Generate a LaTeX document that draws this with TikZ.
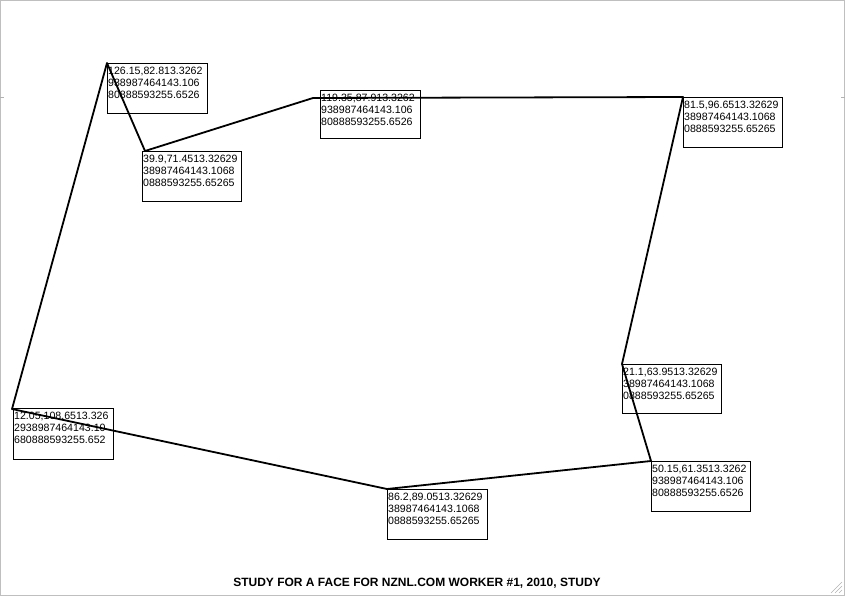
\documentclass[tikz,border=0pt]{standalone}
\usepackage{fontspec}
\setmainfont{Liberation Sans}
\begin{document}
\begin{tikzpicture}[x=1pt,y=-1pt,
  databox/.style={draw=black,line width=0.8pt,anchor=north west,minimum width=100pt,minimum height=50pt,inner sep=0pt},
  datatext/.style={anchor=north west,inner sep=0pt,align=left,font=\fontsize{10.6}{12}\selectfont},
  edge/.style={line width=1.8pt,line join=round}]
\useasboundingbox (0,0) rectangle (845,596);
\draw[gray!50,line width=1pt] (0.5,0.5) rectangle (844.5,595.5);
\draw[gray!60] (0,97) -- (4,97) (841,97) -- (845,97);
\draw[gray!60] (842,582) -- (831,593) (842,586) -- (835,593) (842,590) -- (839,593);
% boxes
\node[databox] (b1) at (107,63) {};
\node[databox,minimum width=99pt] (b2) at (142,151) {};
\node[databox,minimum height=48pt] (b3) at (320,90) {};
\node[databox,minimum width=99pt] (b4) at (683,97) {};
\node[databox,minimum width=99pt,minimum height=49pt] (b5) at (622,364) {};
\node[databox,minimum height=51pt] (b6) at (13,408) {};
\node[databox] (b7) at (387,489) {};
\node[databox,minimum width=99pt] (b8) at (651,461) {};
\node[datatext] (t1) at ([shift={(1,3.5)}]b1.north west) {126.15,82.813.3262\\938987464143.106\\80888593255.6526};
\node[datatext] (t2) at ([shift={(1,3.5)}]b2.north west) {39.9,71.4513.32629\\38987464143.1068\\0888593255.65265};
\node[datatext] (t3) at ([shift={(1,3.5)}]b3.north west) {119.35,87.913.3262\\938987464143.106\\80888593255.6526};
\node[datatext] (t4) at ([shift={(1,3.5)}]b4.north west) {81.5,96.6513.32629\\38987464143.1068\\0888593255.65265};
\node[datatext] (t5) at ([shift={(1,3.5)}]b5.north west) {21.1,63.9513.32629\\38987464143.1068\\0888593255.65265};
\node[datatext] (t6) at ([shift={(1,3.5)}]b6.north west) {12.05,108.6513.326\\2938987464143.10\\680888593255.652};
\node[datatext] (t7) at ([shift={(1,3.5)}]b7.north west) {86.2,89.0513.32629\\38987464143.1068\\0888593255.65265};
\node[datatext] (t8) at ([shift={(1,3.5)}]b8.north west) {50.15,61.3513.3262\\938987464143.106\\80888593255.6526};
% polygon vertices
\coordinate (pA) at (107,63);
\coordinate (pB) at (145,151);
\coordinate (pC) at (313,98);
\coordinate (pD) at (683,97);
\coordinate (pE) at (622,364);
\coordinate (pF) at (651,461);
\coordinate (pG) at (387,489);
\coordinate (pH) at (12,409);
\draw[edge] (pA) -- (pB) -- (pC) -- (pD) -- (pE) -- (pF) -- (pG) -- (pH) -- cycle;
\node[font=\bfseries\fontsize{12}{14}\selectfont,inner sep=0pt] (title) at (417,583) {STUDY FOR A FACE FOR NZNL.COM WORKER \#1, 2010, STUDY};
\end{tikzpicture}
\end{document}
